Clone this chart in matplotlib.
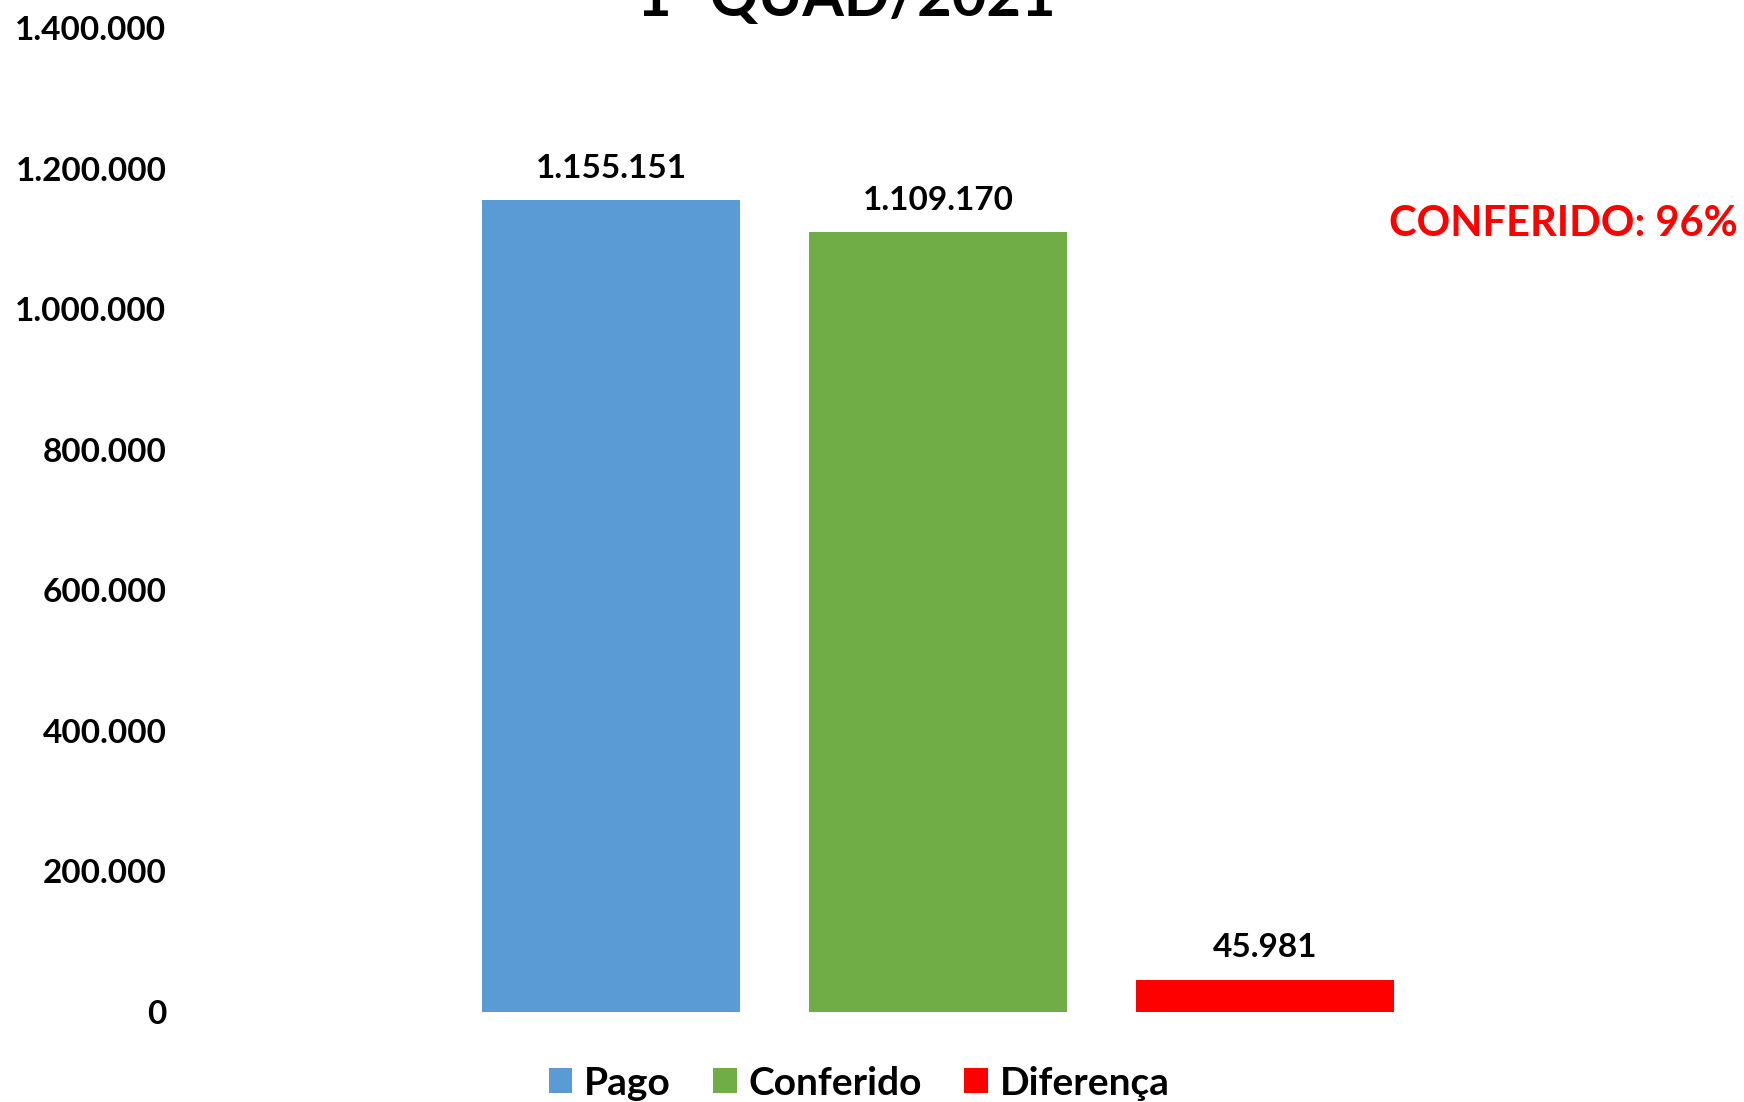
import matplotlib.pyplot as plt
from matplotlib.patches import Patch
from matplotlib.ticker import FuncFormatter

plt.rcParams['font.family'] = ['Lato', 'DejaVu Sans']
plt.rcParams['font.weight'] = 'bold'

# data
series = ['Pago', 'Conferido', 'Diferença']
values = [1155151, 1109170, 45981]
colors = ['#5B9BD5', '#70AD47', '#FF0000']
title = '1º QUAD/2021'
note = 'CONFERIDO: 96%'


def br(v, pos=None):
    return f"{v:,.0f}".replace(',', '.')


fig = plt.figure(figsize=(17.44, 11.02), dpi=100)
ax = fig.add_axes([0.105, 0.0817, 0.865, 0.8929])

xs = list(range(len(values)))
bars = ax.bar(xs, values, width=0.79, color=colors)

for x, v in zip(xs, values):
    ax.annotate(br(v), (x, v), xytext=(0, 23), textcoords='offset points',
                ha='center', va='center', fontsize=24, fontweight='bold')

ax.set_ylim(0, 1400000)
ax.set_yticks(range(0, 1400001, 200000))
ax.yaxis.set_major_formatter(FuncFormatter(br))
ax.set_xlim(-1.31, 3.305)
ax.set_xticks([])
ax.tick_params(axis='y', length=0, pad=12, labelsize=24)
for lab in ax.get_yticklabels():
    lab.set_fontweight('bold')
for s in ax.spines.values():
    s.set_visible(False)

# title mostly cut off at the top, as in the original chart
fig.text(0.485, 1 - 16 / 1102, title, ha='center', va='baseline',
         fontsize=43, fontweight='bold')

fig.text(1 - 6 / 1744, 1 - 224 / 1102, note, ha='right', va='center',
         fontsize=30, fontweight='bold', color='#FF0000')

handles = [Patch(facecolor=c, edgecolor='none') for c in colors]
fig.legend(handles, series, loc='center', bbox_to_anchor=(0.4926, 0.0172),
           ncol=3, frameon=False, fontsize=28, handlelength=0.6,
           handleheight=0.6, handletextpad=0.3, columnspacing=1.1)

fig.savefig('out.png', dpi=100)
